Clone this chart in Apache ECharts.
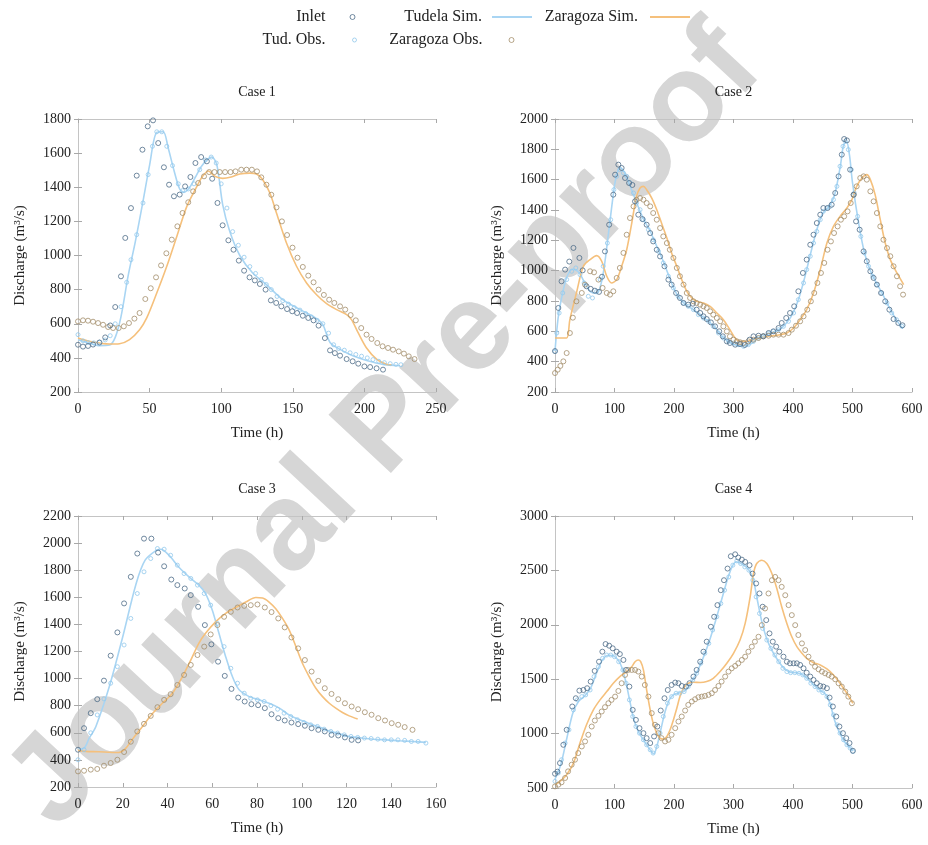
<!DOCTYPE html>
<html>
<head>
<meta charset="utf-8">
<script src="https://cdn.jsdelivr.net/npm/echarts@6.0.0/dist/echarts.min.js"></script>
<style>
  html, body { margin: 0; padding: 0; background: #fff; }
  #chart { width: 928px; height: 845px; }
</style>
</head>
<body>
<div id="chart"></div>
<script>
// ---- Case 1 ----
const case1Inlet = [[0,477],[3.5,466],[7,470],[10.5,478],[15,490],[19,520],[22.5,590],[26,698],[30,878],[33,1103],[37,1278],[41,1468],[45,1620],[48.7,1757],[52.4,1792],[56,1659],[60,1517],[63.6,1415],[67,1347],[71,1357],[74.8,1405],[78.5,1460],[82,1542],[86,1577],[90,1552],[93.7,1450],[97.4,1308],[101,1177],[105,1089],[108.6,1034],[112.3,970],[116,911],[119.8,872],[123.5,854],[127,833],[131,800],[134.7,737],[138.4,722],[142,702],[146,686],[149.6,673],[153,663],[157,647],[160.8,634],[164.5,620],[168,589],[172.4,516],[176,444],[179.4,428],[183,413],[187.6,393],[191.8,380],[195.7,366],[200,350],[204,346],[208.5,339],[213,331]];
const case1TudObs = [[0,536],[3.5,500],[7,490],[11,488],[15,492],[19,505],[22.5,530],[26,600],[30,700],[34,843],[37,975],[41,1122],[45.4,1308],[49,1474],[52,1640],[55,1725],[58.5,1725],[62,1640],[66,1527],[70,1420],[73,1380],[77,1390],[81,1420],[85,1503],[89,1560],[93,1577],[96.5,1542],[100,1420],[104,1278],[108,1140],[112,1060],[116,990],[120,935],[124,895],[128,860],[131.5,830],[135,800],[139,760],[143,735],[147,715],[151,695],[155,680],[159,660],[163,640],[167,620],[171,600],[175,545],[178.5,477],[182,455],[186,445],[190,430],[194,420],[198,410],[202,400],[206,390],[210,380],[214,372],[218,366],[222,362],[225.5,360]];
const case1TudSim = [[0,507],[7,490],[15,472],[22,475],[26,520],[30,640],[35,880],[40,1080],[45,1300],[50,1530],[55,1722],[59.5,1725],[63,1630],[67,1500],[71,1390],[74,1370],[78,1400],[82,1460],[86,1520],[90,1560],[93.5,1577],[97,1530],[101,1300],[106,1140],[113,1000],[122,897],[131.6,829],[143,741],[155,683],[166.6,630],[171,595],[176,490],[183,450],[192,412],[201.5,385],[213,362],[225,354]];
const case1ZarObs = [[0,614],[3.5,620],[7,618],[10.5,612],[14,604],[17.5,594],[21,581],[24.5,575],[28.4,575],[32,585],[35.6,604],[39.4,630],[43,663],[47,745],[50.8,808],[54.5,872],[58,942],[61.7,1013],[65.5,1093],[69.4,1171],[73,1249],[77,1312],[80.4,1376],[84,1425],[88,1464],[91.6,1489],[95.3,1489],[99,1489],[102.7,1489],[106.5,1489],[110,1493],[114,1503],[117.7,1503],[121.4,1503],[125,1493],[128,1458],[131.6,1415],[135,1356],[138.6,1282],[142.4,1200],[146,1120],[149.8,1046],[153.3,987],[157,933],[160.8,882],[164.5,843],[168,800],[171.7,769],[175.4,741],[179,722],[183,702],[186.6,683],[190.4,651],[194,620],[197.8,575],[201.5,536],[205,511],[209,487],[212.7,468],[216.5,458],[220,448],[224,438],[227.6,425],[231,409],[235,393]];
const case1ZarSim = [[0,516],[8,497],[22,481],[29,483],[36,507],[43,565],[48,634],[55,780],[62,937],[69,1112],[76,1288],[83,1405],[87,1464],[91,1495],[95.5,1464],[101,1452],[107,1460],[113,1478],[120,1483],[124.7,1478],[129,1444],[134,1366],[138.6,1249],[145.6,1073],[152.6,937],[159.6,839],[166.6,770],[173.6,718],[180.6,683],[187.6,653],[191,624],[195.7,546],[201.5,458],[208.5,393],[215.5,362],[219,358]];

// ---- Case 2 ----
const case2Inlet = [[0,470],[5.6,754],[11,930],[17,1007],[24,1060],[31,1150],[41,1084],[46.5,1002],[53,897],[60,880],[67,868],[74,860],[79,960],[84,1127],[91,1303],[98,1501],[101,1633],[106.5,1699],[112,1677],[117.7,1611],[124.5,1578],[130,1565],[134.5,1457],[140,1369],[147,1340],[154,1303],[160,1248],[165,1193],[171,1138],[176.6,1094],[184,1029],[190.6,941],[196,908],[203.5,853],[210,820],[216,787],[224,776],[231.6,782],[238,743],[244,721],[249.5,699],[255,681],[262,659],[269,633],[276,600],[282,567],[288.8,534],[294,523],[302.8,512],[311,516],[319,510],[327,545],[333.6,567],[342,571],[350,567],[359,589],[367,600],[375.7,622],[381,655],[388.6,688],[395,721],[402,765],[409,864],[416.6,985],[423,1073],[429,1171],[434.5,1237],[440,1314],[445.8,1369],[451,1413],[458,1413],[465,1435],[471,1512],[476.6,1622],[482,1765],[486,1868],[490.6,1859],[496,1666],[501.8,1501],[506,1325],[512,1270],[518.6,1127],[524,1062],[530,996],[535.5,952],[541,908],[548,853],[555,798],[562,743],[569,681],[577,655],[584,640]];
const case2TudObs = [[0,468],[3,589],[7,721],[13,853],[19.6,941],[28,996],[35,1018],[42,974],[49,919],[56,831],[63,820],[70,864],[76,941],[81,1029],[88,1182],[93.6,1336],[99,1534],[103.7,1622],[109,1666],[115,1644],[120.5,1622],[126,1580],[132,1512],[137,1446],[143,1402],[148.6,1336],[157,1270],[165,1204],[174,1127],[182,1051],[190.6,963],[199,886],[207,831],[216,787],[224,765],[232.7,743],[241,710],[249.5,688],[258,666],[266,633],[274.7,589],[283,556],[291.6,534],[300,523],[308,512],[316.8,501],[325,512],[333.6,534],[342,556],[350,571],[359,585],[367,600],[375.7,611],[384,633],[392.5,666],[401,721],[409,809],[417.7,919],[423,1007],[429,1095],[434.5,1182],[440,1259],[445.8,1336],[451,1391],[457,1413],[462.6,1424],[468,1468],[473.8,1556],[479,1688],[484,1820],[488,1853],[493,1798],[498,1666],[503,1512],[508.6,1358],[514,1226],[520,1117],[527,1029],[534,963],[541,908],[549,853],[558,787],[566,721],[574,677],[583,633]];
const case2TudSim = [[0,470],[5,680],[10,800],[20,960],[30,1010],[40,990],[50,920],[60,860],[70,850],[80,960],[90,1250],[100,1560],[105,1650],[110,1680],[120,1620],[130,1520],[140,1420],[150,1330],[160,1260],[170,1170],[180,1080],[190,980],[200,880],[210,815],[220,775],[230,750],[240,720],[250,690],[260,660],[270,620],[280,570],[290,535],[300,515],[310,505],[320,505],[330,520],[340,550],[350,570],[360,585],[370,600],[380,620],[390,660],[400,720],[410,820],[420,960],[430,1120],[440,1270],[450,1380],[460,1420],[470,1500],[480,1700],[485,1830],[490,1850],[495,1760],[500,1580],[510,1320],[520,1120],[530,1000],[540,920],[550,850],[560,770],[570,700],[580,640],[585,620]];
const case2ZarObs = [[0,325],[4.5,347],[9,372],[14,402],[19.6,457],[25,589],[30,690],[36,798],[45,853],[50.5,908],[59,996],[65.6,989],[73,941],[80,886],[87,853],[92.5,842],[98,864],[103.7,952],[109,1018],[115,1117],[120.5,1237],[126,1347],[132,1424],[137,1468],[143,1479],[148.6,1468],[154,1446],[160,1424],[165,1380],[171,1336],[176.6,1281],[182,1226],[188,1182],[193,1138],[199,1084],[204.7,1018],[210,963],[216,908],[221.5,853],[227,820],[232.7,798],[238,787],[244,776],[249.5,765],[255,754],[260.7,732],[266,710],[272,688],[277.5,666],[283,633],[288.8,600],[294,567],[300,545],[305.6,534],[311,528],[316.8,523],[325,534],[333.6,545],[342,556],[350,567],[359,571],[367,578],[375.7,578],[384,578],[392.5,589],[398,611],[405,637],[412,666],[417.7,699],[424,743],[430,798],[435.7,853],[441,919],[447,985],[452.5,1051],[458,1138],[463.7,1193],[469,1248],[475,1292],[480.5,1336],[486,1358],[491.7,1391],[497,1446],[502,1500],[507,1556],[513,1611],[518.6,1622],[524,1600],[530,1523],[535.5,1457],[541,1380],[546.7,1292],[552,1204],[558,1149],[563.5,1095],[569,1029],[574.7,963],[580,897],[585,842]];
const case2ZarSim = [[0,556],[8,556],[19.6,556],[25,677],[36,853],[47.7,1029],[59,1073],[70,1099],[78.5,1062],[87,963],[95,919],[103.7,941],[112,1029],[120.5,1138],[129,1314],[137,1490],[143,1545],[148.6,1556],[154,1534],[162.6,1479],[171,1402],[179,1314],[188,1215],[196,1117],[204.7,1029],[213,941],[221.5,864],[230,820],[238,798],[249.5,787],[260.7,765],[272,721],[283,677],[294,611],[302.8,556],[311,534],[322,534],[333.6,545],[345,556],[356,567],[367,571],[378.5,578],[389.7,589],[401,622],[412,677],[423,743],[434.5,853],[445.8,1007],[457,1182],[468,1292],[479,1358],[490.6,1413],[499,1468],[507,1556],[516,1611],[524,1633],[530,1600],[538,1501],[546.7,1336],[555,1182],[563.5,1073],[574.7,985],[586,908]];

// ---- Case 3 ----
const case3Inlet = [[0,475],[2.7,634],[5.7,745],[8.6,848],[11.6,985],[14.6,1169],[17.6,1341],[20.6,1555],[23.6,1751],[26.5,1923],[29.5,2033],[32.8,2033],[35.8,1930],[38.5,1829],[41.7,1731],[44.4,1690],[47.7,1665],[50.4,1616],[53.7,1530],[56.7,1395],[59.6,1253],[62.6,1125],[65.6,1020],[68.6,924],[71.6,860],[74.5,831],[77.5,811],[80.5,804],[83.5,782],[86.5,737],[89.5,708],[92.4,691],[95.4,676],[98.4,664],[101.4,652],[104.4,634],[107.4,622],[110.3,610],[113.3,585],[116.3,580],[119.3,566],[122.3,548],[125.2,544]];
const case3TudObs = [[0,401],[2.7,475],[5.7,600],[8.6,732],[11.6,850],[14.6,966],[17.6,1088],[20.6,1248],[23.6,1444],[26.5,1628],[29.5,1788],[32.5,1886],[35.5,1960],[38.5,1955],[41.4,1910],[44.4,1837],[47.4,1775],[50.4,1739],[53.4,1690],[56.4,1628],[59.3,1542],[62.3,1407],[65.3,1236],[68.3,1076],[71.3,966],[74.3,892],[77.2,855],[80.2,843],[83.2,831],[86.2,800],[89.2,774],[92.1,745],[95.1,720],[98.1,696],[101,676],[104,659],[107,647],[110,627],[113,610],[116,598],[119,585],[122,573],[125,566],[128,561],[131,558],[134,553],[137,548],[140,548],[143,548],[146,544],[149,536],[152,536],[155.5,524]];
const case3TudSim = [[0,480],[2.7,487],[5,560],[8,647],[14,941],[20,1309],[26,1702],[30,1874],[35,1947],[37,1955],[40.7,1910],[45,1824],[49.6,1751],[54,1690],[57,1628],[60,1506],[63,1334],[66,1162],[69,1015],[72,917],[76.5,867],[81,843],[85.4,818],[90,782],[94.3,732],[99,696],[103,671],[107.8,642],[112,615],[116.7,593],[121,573],[125,566],[128.7,558],[133,551],[137.6,548],[143.6,541],[149.5,536],[155.5,529]];
const case3ZarObs = [[0,315],[2.7,320],[5.7,328],[8.6,333],[11.6,357],[14.6,377],[17.6,401],[20.6,458],[23.6,534],[26.5,610],[29.5,666],[32.5,725],[35.5,789],[38.5,843],[41.4,885],[44.4,953],[47.4,1027],[50.4,1101],[53.4,1174],[56.4,1236],[59.3,1326],[62.3,1395],[65.3,1456],[68.3,1493],[71.3,1525],[74.3,1537],[77.2,1542],[80.2,1547],[83.5,1525],[86.5,1491],[89.5,1444],[92.4,1378],[95.4,1304],[98.4,1223],[101.4,1137],[104.4,1052],[107.4,983],[110.3,929],[113.3,887],[116.3,848],[119.3,818],[122.3,794],[125.2,774],[128.2,752],[131.2,733],[134.2,708],[137.2,691],[140.2,671],[143.1,659],[146,642],[149.5,622]];
const case3ZarSim = [[0,470],[3.4,463],[9.4,460],[15.4,455],[18.3,455],[21.3,485],[24.3,553],[28.8,647],[33.2,740],[37.7,818],[42.2,892],[46.7,1015],[50.4,1137],[54,1260],[57,1334],[61.6,1420],[66,1481],[70.5,1525],[75,1565],[79.5,1598],[82.5,1595],[85.4,1565],[88.4,1515],[91.4,1444],[94.4,1358],[97.4,1236],[100.3,1113],[103.3,1015],[106.3,929],[109.3,867],[112.3,818],[115.2,782],[118.2,750],[121.2,725],[125,701]];

// ---- Case 4 ----
const case4Inlet = [[0,631],[4,650],[8.4,729],[14,897],[19.6,1035],[29,1249],[35,1325],[41,1395],[47.7,1401],[54,1417],[60,1478],[66.7,1576],[74,1661],[79.6,1753],[85,1823],[91,1808],[97,1784],[103.7,1753],[109,1731],[115,1677],[119.4,1585],[125,1432],[130.6,1218],[136,1126],[142,1050],[148.6,1004],[154,958],[160,913],[166.5,974],[172,1065],[177.7,1212],[184,1325],[189.5,1401],[196,1447],[202,1469],[207.5,1463],[213,1438],[220,1432],[226,1463],[232.7,1524],[238,1585],[244,1661],[249.5,1753],[255,1845],[262,1982],[267.5,2074],[273,2181],[278.7,2318],[284,2410],[290,2517],[295.5,2630],[302.8,2648],[308,2618],[314,2599],[319.6,2578],[327,2548],[332,2470],[338,2380],[343.7,2288],[349,2166],[355,2043],[360.5,1921],[366,1845],[371.7,1799],[377,1753],[384,1707],[389.7,1661],[395,1646],[401,1646],[406.5,1646],[412,1631],[417.7,1600],[423,1560],[429,1524],[434.5,1493],[440,1463],[445.8,1438],[451,1432],[457,1417],[461.5,1331],[467,1249],[472.7,1157],[478,1065],[484,1004],[489.5,958],[495,913],[500.7,842]];
const case4TudObs = [[0,561],[5.6,638],[11,760],[17,913],[23.5,1035],[31,1218],[37.6,1310],[45,1340],[51.6,1356],[59,1401],[65.6,1524],[73,1615],[80,1692],[87,1722],[93.6,1722],[100,1707],[107,1661],[114,1585],[119.4,1463],[125,1310],[130.6,1157],[136,1065],[142,1004],[148.6,943],[154,897],[160,851],[165,821],[171,882],[176.6,1004],[182,1157],[189,1279],[196,1340],[203.5,1371],[210,1371],[217,1386],[224,1432],[231.6,1493],[238,1554],[245,1646],[251.8,1738],[258.5,1829],[265,1952],[272,2074],[278.7,2196],[285,2318],[292,2440],[298.9,2548],[305.6,2587],[312,2563],[319,2532],[325.8,2502],[332.5,2410],[338,2257],[343.7,2104],[349,1967],[356,1860],[362.8,1783],[369.5,1722],[376,1661],[383,1600],[389.7,1570],[396,1560],[403,1560],[410,1554],[416.6,1539],[423,1508],[430,1463],[437,1432],[443.5,1401],[450,1377],[457,1340],[462.6,1264],[468,1172],[474,1081],[479,1004],[485,943],[490.6,897],[496,867],[500.7,836]];
const case4TudSim = [[0,580],[10,720],[20,960],[30,1190],[40,1300],[50,1345],[60,1420],[70,1560],[80,1680],[90,1720],[100,1710],[110,1640],[118,1500],[125,1320],[132,1140],[140,1020],[150,930],[160,850],[166,815],[172,900],[178,1040],[185,1200],[192,1310],[200,1360],[210,1375],[220,1400],[230,1480],[240,1580],[250,1710],[260,1860],[270,2040],[280,2230],[290,2420],[298,2540],[305,2580],[315,2555],[325,2510],[333,2420],[340,2230],[348,2020],[356,1870],[365,1760],[375,1670],[385,1600],[395,1565],[405,1560],[415,1545],[425,1500],[435,1445],[445,1400],[455,1360],[462,1280],[470,1120],[478,1010],[486,930],[494,880],[501,840]];
const case4ZarObs = [[0,515],[5.6,531],[11,552],[17,592],[22,653],[28,714],[33.6,760],[39,821],[45,882],[50.5,928],[56,989],[61.7,1065],[67,1120],[73,1163],[78.5,1203],[84,1243],[89.7,1279],[95,1310],[101,1340],[106.5,1392],[112,1463],[117.7,1539],[123,1585],[129,1585],[134.6,1585],[140,1570],[145.8,1524],[151,1447],[157,1340],[162.6,1188],[168,1081],[173.8,1004],[179,958],[185,928],[190.6,943],[196,989],[202,1050],[207.5,1111],[213,1157],[218.7,1212],[224,1264],[230,1295],[235.5,1316],[241,1334],[246.7,1340],[252,1346],[258,1356],[263.5,1371],[269,1401],[274.7,1438],[280,1478],[286,1524],[291.6,1570],[297,1600],[302.8,1622],[308,1646],[314,1677],[319.6,1707],[325,1753],[330.8,1799],[336,1845],[342,1890],[347.6,1997],[353,2150],[358.8,2288],[364.5,2410],[370,2440],[375.7,2410],[381,2349],[387,2272],[392.5,2181],[398,2089],[403.7,1997],[409,1906],[415,1829],[420.5,1768],[426,1707],[431.8,1652],[437,1615],[443,1591],[448.6,1570],[454,1554],[459.8,1539],[465,1524],[471,1499],[476.6,1463],[482,1432],[487.8,1386],[493,1340],[499,1279]];
const case4ZarSim = [[0,531],[8.4,561],[19.6,622],[31,729],[42,913],[53,1081],[64.5,1218],[75.7,1310],[87,1386],[98,1463],[109,1524],[120.5,1570],[129,1615],[134.6,1661],[140,1677],[144,1661],[148.6,1585],[154,1402],[160,1218],[165,1096],[171,1004],[176.6,958],[182,949],[188,974],[193.4,1035],[199,1126],[204.7,1233],[210,1340],[216,1417],[224,1463],[232.7,1472],[244,1469],[255,1478],[266,1508],[277.5,1570],[288.8,1646],[300,1738],[311,1860],[319.6,2013],[328,2257],[333.6,2471],[339,2563],[347.6,2593],[356,2563],[364.5,2471],[372.8,2334],[381,2166],[389.7,2013],[398,1890],[406.5,1799],[415,1738],[423,1692],[434.5,1652],[445.8,1631],[457,1594],[468,1539],[479,1463],[490.6,1371],[500.7,1279]];

// Panel titles and axis ranges [min, max, interval]
const caseTitles = ['Case 1', 'Case 2', 'Case 3', 'Case 4'];
const timeRanges = [[0, 250, 50], [0, 600, 100], [0, 160, 20], [0, 600, 100]];
const dischargeRanges = [[200, 1800, 200], [200, 2000, 200], [200, 2200, 200], [500, 3000, 500]];

const caseData = [
  [case1Inlet, case1TudObs, case1TudSim, case1ZarObs, case1ZarSim],
  [case2Inlet, case2TudObs, case2TudSim, case2ZarObs, case2ZarSim],
  [case3Inlet, case3TudObs, case3TudSim, case3ZarObs, case3ZarSim],
  [case4Inlet, case4TudObs, case4TudSim, case4ZarObs, case4ZarSim]
];

const SERIF = '"Liberation Serif", "DejaVu Serif", serif';
const TEXT = '#222';
const FRAME = '#c4c4c4';
const COLORS = {
  inlet: '#4f6d88',
  tudObs: '#93c9ec',
  tudSim: '#a9d5f3',
  zarObs: '#a48e6c',
  zarSim: '#f5c07c'
};

const grids = [
  { left: 78, top: 119, width: 358, height: 273 },
  { left: 555, top: 119, width: 357, height: 273 },
  { left: 78, top: 516, width: 358, height: 271 },
  { left: 555, top: 516, width: 357, height: 272 }
];

const xAxes = [], yAxes = [], series = [], titles = [];

grids.forEach((g, i) => {
  const [xMin, xMax, xStep] = timeRanges[i];
  const [yMin, yMax, yStep] = dischargeRanges[i];
  const tick = { show: true, inside: true, length: 4, lineStyle: { color: '#a8a8a8', width: 1 } };
  const line = { show: true, lineStyle: { color: FRAME, width: 1 } };
  const label = { color: TEXT, fontFamily: SERIF, fontSize: 14, formatter: v => String(v) };
  const nameStyle = { color: TEXT, fontFamily: SERIF, fontSize: 15 };
  // bottom + mirrored top
  xAxes.push({
    type: 'value', gridIndex: i, position: 'bottom', min: xMin, max: xMax, interval: xStep,
    axisLine: line, axisTick: tick, splitLine: { show: false },
    axisLabel: Object.assign({ margin: 10 }, label),
    name: 'Time (h)', nameLocation: 'middle', nameGap: 34, nameTextStyle: nameStyle
  });
  xAxes.push({
    type: 'value', gridIndex: i, position: 'top', min: xMin, max: xMax, interval: xStep,
    axisLine: line, axisTick: tick, splitLine: { show: false }, axisLabel: { show: false }
  });
  // left + mirrored right
  yAxes.push({
    type: 'value', gridIndex: i, position: 'left', min: yMin, max: yMax, interval: yStep,
    axisLine: line, axisTick: tick, splitLine: { show: false },
    axisLabel: Object.assign({ margin: 7 }, label),
    name: 'Discharge (m³/s)', nameLocation: 'middle', nameGap: 50, nameRotate: 90,
    nameTextStyle: nameStyle
  });
  yAxes.push({
    type: 'value', gridIndex: i, position: 'right', min: yMin, max: yMax, interval: yStep,
    axisLine: line, axisTick: tick, splitLine: { show: false }, axisLabel: { show: false }
  });

  titles.push({
    text: caseTitles[i], left: g.left + g.width / 2, top: g.top - 34,
    textAlign: 'center', textVerticalAlign: 'top', padding: 0,
    textStyle: { color: TEXT, fontFamily: SERIF, fontSize: 14, fontWeight: 'normal' }
  });

  const [inlet, tudObs, tudSim, zarObs, zarSim] = caseData[i];
  const xi = i * 2, yi = i * 2;
  const marker = (name, data, color, size, z) => ({
    name, type: 'scatter', xAxisIndex: xi, yAxisIndex: yi, data,
    symbol: 'circle', symbolSize: size, z,
    itemStyle: { color: 'rgba(255,255,255,0)', borderColor: color, borderWidth: 1 },
    emphasis: { disabled: true }
  });
  const curve = (name, data, color, z) => ({
    name, type: 'line', xAxisIndex: xi, yAxisIndex: yi, data,
    symbol: 'none', showSymbol: false, smooth: 0.3, z,
    lineStyle: { color, width: 1.6 }, itemStyle: { color },
    emphasis: { disabled: true }
  });
  series.push(curve('Tudela Sim.', tudSim, COLORS.tudSim, 2));
  series.push(curve('Zaragoza Sim.', zarSim, COLORS.zarSim, 2));
  series.push(marker('Tud. Obs.', tudObs, COLORS.tudObs, 4, 3));
  series.push(marker('Zaragoza Obs.', zarObs, COLORS.zarObs, 5, 4));
  series.push(marker('Inlet', inlet, COLORS.inlet, 5, 5));
});

// One legend block per entry: label on the left, key on the right
const legendFont = { color: TEXT, fontFamily: SERIF, fontSize: 16 };
const legendEntry = (name, icon, right, top, w, h, gapRight) => ({
  data: [{ name, icon }], right, top, align: 'right', orient: 'horizontal', padding: 0,
  itemWidth: w, itemHeight: h,
  itemStyle: icon === 'circle' ? { borderWidth: 1 } : {},
  textStyle: Object.assign({ padding: [0, gapRight, 0, 0] }, legendFont)
});
const legends = [
  legendEntry('Inlet', 'circle', 572.5, 9, 5, 5, 19.5),
  legendEntry('Tudela Sim.', 'rect', 396, 9, 40, 2, 5),
  legendEntry('Zaragoza Sim.', 'rect', 238, 9, 40, 2, 7),
  legendEntry('Tud. Obs.', 'circle', 571, 32, 4, 4, 22),
  legendEntry('Zaragoza Obs.', 'circle', 413.5, 32, 5, 5, 21.5)
];

const chart = echarts.init(document.getElementById('chart'), null, { renderer: 'canvas' });
chart.setOption({
  backgroundColor: '#ffffff',
  animation: false,
  title: titles,
  legend: legends,
  grid: grids.map(g => Object.assign({ containLabel: false, show: false }, g)),
  xAxis: xAxes,
  yAxis: yAxes,
  series,
  graphic: [{
    type: 'text', z: -10, x: 386, y: 428, rotation: 47 * Math.PI / 180,
    style: {
      text: 'Journal Pre-proof', font: 'bold 124px "Liberation Sans", Arial, sans-serif',
      fill: '#d6d6d6', align: 'center', verticalAlign: 'middle',
      textAlign: 'center', textVerticalAlign: 'middle'
    }
  }]
});
</script>
</body>
</html>
